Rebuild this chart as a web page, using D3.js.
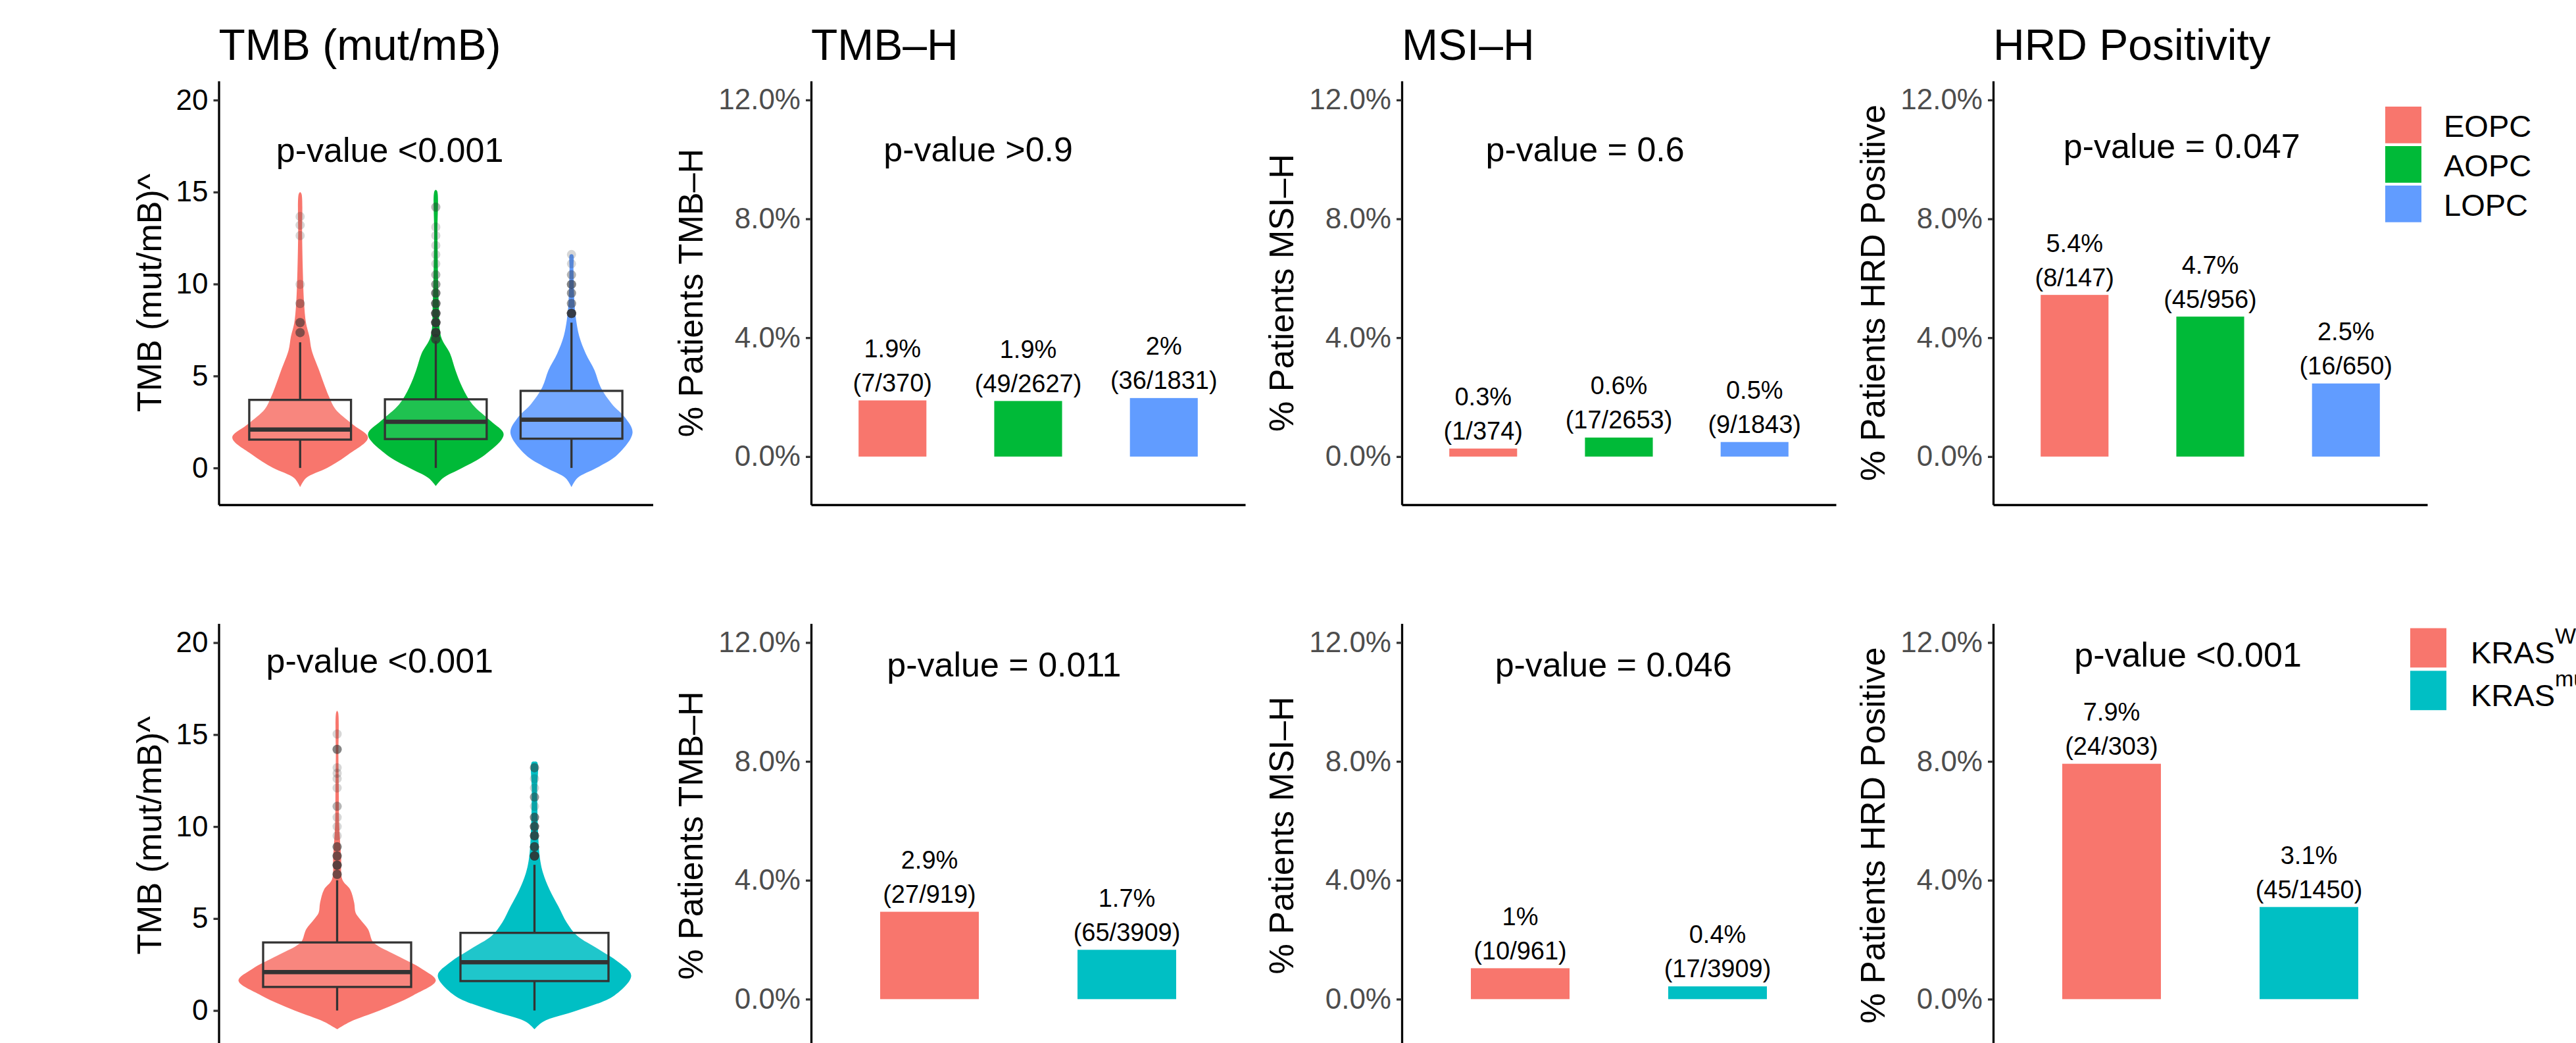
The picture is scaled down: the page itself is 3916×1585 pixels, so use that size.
<!DOCTYPE html>
<html>
<head>
<meta charset="utf-8">
<script src="https://cdn.jsdelivr.net/npm/d3@7"></script>
<style>
  body { margin: 0; background: #ffffff; }
  text { font-family: "Liberation Sans", Arial, Helvetica, sans-serif; }
</style>
</head>
<body>
<svg id="chart" width="3916" height="1585"></svg>
<script>
// ---------------- DATA ----------------
const ageGroups = ["EOPC", "AOPC", "LOPC"];
const krasGroups = ["KRASWT", "KRASmut"];
const ageColors = ["#F8766D", "#00BA38", "#619CFF"];
const krasColors = ["#F8766D", "#00BFC4"];
const krasLegendBase = ["KRAS", "KRAS"];
const krasLegendSup = ["WT", "mut"];

const panelTitles = ["TMB (mut/mB)", "TMB\u2013H", "MSI\u2013H", "HRD Positivity"];
const yAxisTitles = ["TMB (mut/mB)^", "% Patients TMB\u2013H", "% Patients MSI\u2013H", "% Patients HRD Positive"];
const tmbTicks = [0, 5, 10, 15, 20];
const pctTicks = [0, 4, 8, 12];

// violin profiles: [TMB value, relative density half-width]
const violinEOPC = [[-1.04,0],[-0.55,0.087],[0,0.40],[0.73,0.71],[1.65,1.0],[2.38,0.77],[3.2,0.52],[3.84,0.43],[4.39,0.37],[5.31,0.28],[6.4,0.17],[7.14,0.136],[7.87,0.087],[8.97,0.058],[10.8,0.039],[12.63,0.029],[14.9,0.02],[15.0,0]];
const violinAOPC = [[-0.98,0],[-0.55,0.107],[0,0.39],[0.73,0.73],[1.82,1.0],[2.55,0.81],[3.46,0.54],[4.39,0.39],[5.31,0.29],[6.22,0.21],[7.14,0.077],[8.97,0.044],[12.63,0.024],[15.05,0.02],[15.12,0]];
const violinLOPC = [[-1.04,0],[-0.55,0.087],[0,0.37],[0.73,0.68],[1.92,0.90],[2.74,0.79],[3.46,0.60],[4.39,0.43],[5.31,0.34],[6.22,0.21],[7.14,0.116],[8.05,0.068],[8.97,0.044],[10.8,0.029],[11.58,0.025],[11.62,0]];
const violinKrasWT = [[-1.02,0],[-0.61,0.133],[0,0.433],[0.83,0.773],[1.63,1.0],[2.26,0.86],[2.98,0.607],[3.52,0.413],[3.75,0.36],[4.42,0.313],[4.96,0.233],[5.32,0.187],[5.85,0.173],[6.57,0.133],[7.11,0.053],[8.37,0.04],[10.17,0.02],[11.96,0.017],[13.76,0.013],[16.2,0.01],[16.3,0]];
const violinKrasMut = [[-1.02,0],[-0.61,0.087],[0,0.433],[0.83,0.813],[1.9,0.98],[2.62,0.853],[3.34,0.647],[4.06,0.433],[4.78,0.327],[5.68,0.24],[6.57,0.153],[7.47,0.087],[8.37,0.053],[10.17,0.033],[11.96,0.027],[13.5,0.027],[13.53,0]];

// box statistics: [lower whisker, Q1, median, Q3, upper whisker]
const boxEOPC = [0, 1.54, 2.09, 3.70, 6.83];
const boxAOPC = [0, 1.57, 2.51, 3.73, 6.90];
const boxLOPC = [0, 1.59, 2.62, 4.19, 7.90];
const boxKrasWT = [0, 1.28, 2.09, 3.70, 7.08];
const boxKrasMut = [0, 1.60, 2.62, 4.22, 7.92];

// outliers: [TMB value, number of overlapping points]
const outEOPC = [[13.67,1],[13.2,1],[12.63,1],[9.98,1],[8.94,2],[7.9,4],[7.36,4]];
const outAOPC = [[14.18,2],[13.1,1],[12.63,1],[12.1,1],[11.6,1],[11.1,1],[10.5,2],[9.98,3],[9.5,5],[8.94,6],[8.4,8],[7.9,10],[7.36,10],[7.0,6]];
const outLOPC = [[11.6,1],[11.1,1],[10.5,2],[9.98,4],[9.5,3],[8.94,3],[8.4,10]];
const outKrasWT = [[15.03,1],[14.2,4],[13.2,1],[12.9,1],[12.6,1],[12.1,1],[11.1,2],[10.5,1],[10.0,1],[9.5,1],[8.9,4],[8.4,5],[7.9,7],[7.4,5]];
const outKrasMut = [[13.2,3],[12.6,1],[12.1,1],[11.6,3],[11.1,1],[10.5,4],[10.0,6],[9.5,7],[8.9,7],[8.4,10]];

// bar values (% of patients) and labels
const tmbHAge = [1.89, 1.87, 1.97];
const tmbHAgePct = ["1.9%", "1.9%", "2%"];
const tmbHAgeN = ["(7/370)", "(49/2627)", "(36/1831)"];
const msiAge = [0.27, 0.64, 0.49];
const msiAgePct = ["0.3%", "0.6%", "0.5%"];
const msiAgeN = ["(1/374)", "(17/2653)", "(9/1843)"];
const hrdAge = [5.44, 4.71, 2.46];
const hrdAgePct = ["5.4%", "4.7%", "2.5%"];
const hrdAgeN = ["(8/147)", "(45/956)", "(16/650)"];

const tmbHKras = [2.94, 1.66];
const tmbHKrasPct = ["2.9%", "1.7%"];
const tmbHKrasN = ["(27/919)", "(65/3909)"];
const msiKras = [1.04, 0.43];
const msiKrasPct = ["1%", "0.4%"];
const msiKrasN = ["(10/961)", "(17/3909)"];
const hrdKras = [7.92, 3.10];
const hrdKrasPct = ["7.9%", "3.1%"];
const hrdKrasN = ["(24/303)", "(45/1450)"];

const pvalRow1 = ["p-value <0.001", "p-value >0.9", "p-value = 0.6", "p-value = 0.047"];
const pvalRow2 = ["p-value <0.001", "p-value = 0.011", "p-value = 0.046", "p-value <0.001"];

// ---------------- LAYOUT ----------------
const panelLefts = [332.5, 1233, 2131, 3030];
const panelW = 660;
const rowTops = [123, 947.5];
const panelH = 644;
const tmbDomain = [-2.0, 21.04];
const pctDomain = [-1.62, 12.64];
// p-value label anchor in (group index, data value)
const pvalPos1 = [[1.661,16.65],[1.632,9.93],[1.751,9.93],[1.79,10.04]];
const pvalPos2 = [[1.216,18.39],[1.378,10.85],[1.472,10.85],[1.387,11.18]];

const svg = d3.select("#chart");
svg.append("rect").attr("width", 3916).attr("height", 1585).attr("fill", "#ffffff");

function makeScales(col, row, groups, domain) {
  const left = panelLefts[col];
  const top = rowTops[row];
  const x = d3.scalePoint().domain(groups).range([left, left + panelW]).padding(0.6);
  const y = d3.scaleLinear().domain(domain).range([top + panelH, top]);
  const idx = d3.scaleLinear().domain([1, groups.length]).range([x(groups[0]), x(groups[groups.length - 1])]);
  return { x, y, idx, left, top };
}

function drawAxes(s, ticks, fmt, tickColor, yTitle, titleOffset, title) {
  const gy = svg.append("g").attr("transform", `translate(${s.left},0)`)
    .call(d3.axisLeft(s.y).tickValues(ticks).tickFormat(fmt).tickSize(8).tickPadding(8).tickSizeOuter(0));
  gy.select(".domain").attr("stroke", "#000").attr("stroke-width", 3.3);
  gy.selectAll(".tick line").attr("stroke", "#333").attr("stroke-width", 3.3);
  gy.selectAll(".tick text").attr("fill", tickColor).attr("font-size", 44)
    .attr("font-family", "'Liberation Sans', Arial, Helvetica, sans-serif");
  const gx = svg.append("g").attr("transform", `translate(0,${s.top + panelH})`)
    .call(d3.axisBottom(s.x).tickValues([]).tickSizeOuter(0));
  gx.select(".domain").attr("stroke", "#000").attr("stroke-width", 3.3);

  const cy = s.top + panelH / 2;
  svg.append("text")
    .attr("transform", `translate(${s.left - titleOffset},${cy}) rotate(-90)`)
    .attr("text-anchor", "middle").attr("font-size", 52).attr("fill", "#000")
    .text(yTitle);
  if (title) {
    svg.append("text").attr("x", s.left).attr("y", s.top - 32)
      .attr("font-size", 66).attr("fill", "#000").text(title);
  }
}

function drawPval(s, text, pos) {
  svg.append("text").attr("x", s.idx(pos[0])).attr("y", s.y(pos[1]))
    .attr("text-anchor", "middle").attr("font-size", 52).attr("fill", "#000").text(text);
}

function drawViolinPanel(col, row, groups, colors, profiles, boxes, outliers, title, pval, ppos) {
  const s = makeScales(col, row, groups, tmbDomain);
  const step = s.x.step();
  const g = svg.append("g");
  groups.forEach((grp, i) => {
    const xc = s.x(grp);
    const half = step * 0.5;
    const area = d3.area().curve(d3.curveCatmullRom.alpha(0.5))
      .y(d => s.y(d[0]))
      .x0(d => xc - d[1] * half)
      .x1(d => xc + d[1] * half);
    g.append("path").attr("d", area(profiles[i])).attr("fill", colors[i]);

    const b = boxes[i];
    const bw = step * 0.75 / 2;
    g.append("line").attr("x1", xc).attr("x2", xc).attr("y1", s.y(b[3])).attr("y2", s.y(b[4]))
      .attr("stroke", "#333").attr("stroke-width", 3.3);
    g.append("line").attr("x1", xc).attr("x2", xc).attr("y1", s.y(b[1])).attr("y2", s.y(b[0]))
      .attr("stroke", "#333").attr("stroke-width", 3.3);
    g.append("rect").attr("x", xc - bw).attr("width", bw * 2)
      .attr("y", s.y(b[3])).attr("height", s.y(b[1]) - s.y(b[3]))
      .attr("fill", "#ffffff").attr("fill-opacity", 0.12)
      .attr("stroke", "#333").attr("stroke-width", 3.3);
    g.append("line").attr("x1", xc - bw).attr("x2", xc + bw).attr("y1", s.y(b[2])).attr("y2", s.y(b[2]))
      .attr("stroke", "#333").attr("stroke-width", 6.5);

    outliers[i].forEach(([v, n]) => {
      for (let k = 0; k < n; k++) {
        g.append("circle").attr("cx", xc).attr("cy", s.y(v)).attr("r", 7)
          .attr("fill", "#333333").attr("fill-opacity", 0.2);
      }
    });
  });
  drawAxes(s, tmbTicks, d3.format("d"), "#000", yAxisTitles[0], 87.5, title);
  drawPval(s, pval, ppos);
}

function drawBarPanel(col, row, groups, colors, values, pctLabels, nLabels, title, pval, ppos) {
  const s = makeScales(col, row, groups, pctDomain);
  const step = s.x.step();
  const bw = step * 0.5;
  const g = svg.append("g");
  groups.forEach((grp, i) => {
    const xc = s.x(grp);
    g.append("rect").attr("x", xc - bw / 2).attr("width", bw)
      .attr("y", s.y(values[i])).attr("height", s.y(0) - s.y(values[i]))
      .attr("fill", colors[i]);
    const yTop = s.y(values[i]);
    g.append("text").attr("x", xc).attr("y", yTop - 13.5).attr("text-anchor", "middle")
      .attr("font-size", 38).attr("fill", "#000").text(nLabels[i]);
    g.append("text").attr("x", xc).attr("y", yTop - 13.5 - 52).attr("text-anchor", "middle")
      .attr("font-size", 38).attr("fill", "#000").text(pctLabels[i]);
  });
  drawAxes(s, pctTicks, d3.format(".1f"), "#4D4D4D", yAxisTitles[col], 165, title);
  svg.selectAll(null);
  drawPval(s, pval, ppos);
}

// percent formatting for bar axis ticks
const pctFmt = d => d3.format(".1f")(d) + "%";

// override drawAxes format for bar panels
function drawBarPanelPct(col, row, groups, colors, values, pctLabels, nLabels, title, pval, ppos) {
  const s = makeScales(col, row, groups, pctDomain);
  const step = s.x.step();
  const bw = step * 0.5;
  const g = svg.append("g");
  groups.forEach((grp, i) => {
    const xc = s.x(grp);
    const yTop = s.y(values[i]);
    g.append("rect").attr("x", xc - bw / 2).attr("width", bw)
      .attr("y", yTop).attr("height", s.y(0) - yTop)
      .attr("fill", colors[i]);
    g.append("text").attr("x", xc).attr("y", yTop - 13.5).attr("text-anchor", "middle")
      .attr("font-size", 38).attr("fill", "#000").text(nLabels[i]);
    g.append("text").attr("x", xc).attr("y", yTop - 13.5 - 52).attr("text-anchor", "middle")
      .attr("font-size", 38).attr("fill", "#000").text(pctLabels[i]);
  });
  drawAxes(s, pctTicks, pctFmt, "#4D4D4D", yAxisTitles[col], 165, title);
  drawPval(s, pval, ppos);
}

// Row 1
drawViolinPanel(0, 0, ageGroups, ageColors, [violinEOPC, violinAOPC, violinLOPC],
  [boxEOPC, boxAOPC, boxLOPC], [outEOPC, outAOPC, outLOPC], panelTitles[0], pvalRow1[0], pvalPos1[0]);
drawBarPanelPct(1, 0, ageGroups, ageColors, tmbHAge, tmbHAgePct, tmbHAgeN, panelTitles[1], pvalRow1[1], pvalPos1[1]);
drawBarPanelPct(2, 0, ageGroups, ageColors, msiAge, msiAgePct, msiAgeN, panelTitles[2], pvalRow1[2], pvalPos1[2]);
drawBarPanelPct(3, 0, ageGroups, ageColors, hrdAge, hrdAgePct, hrdAgeN, panelTitles[3], pvalRow1[3], pvalPos1[3]);

// Row 2
drawViolinPanel(0, 1, krasGroups, krasColors, [violinKrasWT, violinKrasMut],
  [boxKrasWT, boxKrasMut], [outKrasWT, outKrasMut], null, pvalRow2[0], pvalPos2[0]);
drawBarPanelPct(1, 1, krasGroups, krasColors, tmbHKras, tmbHKrasPct, tmbHKrasN, null, pvalRow2[1], pvalPos2[1]);
drawBarPanelPct(2, 1, krasGroups, krasColors, msiKras, msiKrasPct, msiKrasN, null, pvalRow2[2], pvalPos2[2]);
drawBarPanelPct(3, 1, krasGroups, krasColors, hrdKras, hrdKrasPct, hrdKrasN, null, pvalRow2[3], pvalPos2[3]);

// Legends
const leg1 = svg.append("g").attr("transform", "translate(3626,162)");
ageGroups.forEach((grp, i) => {
  leg1.append("rect").attr("x", 0).attr("y", i * 60).attr("width", 55).attr("height", 55.7).attr("fill", ageColors[i]);
  leg1.append("text").attr("x", 89).attr("y", i * 60 + 45.7).attr("font-size", 47).attr("fill", "#000").text(grp);
});
const leg2 = svg.append("g").attr("transform", "translate(3664,954.6)");
krasGroups.forEach((grp, i) => {
  leg2.append("rect").attr("x", 0).attr("y", i * 64.8).attr("width", 55).attr("height", 59.8).attr("fill", krasColors[i]);
  const t = leg2.append("text").attr("x", 92).attr("y", i * 64.8 + 53.5).attr("font-size", 47).attr("fill", "#000");
  t.append("tspan").text(krasLegendBase[i]);
  t.append("tspan").attr("dy", -30).attr("font-size", 34).text(krasLegendSup[i]);
});
</script>
</body>
</html>
